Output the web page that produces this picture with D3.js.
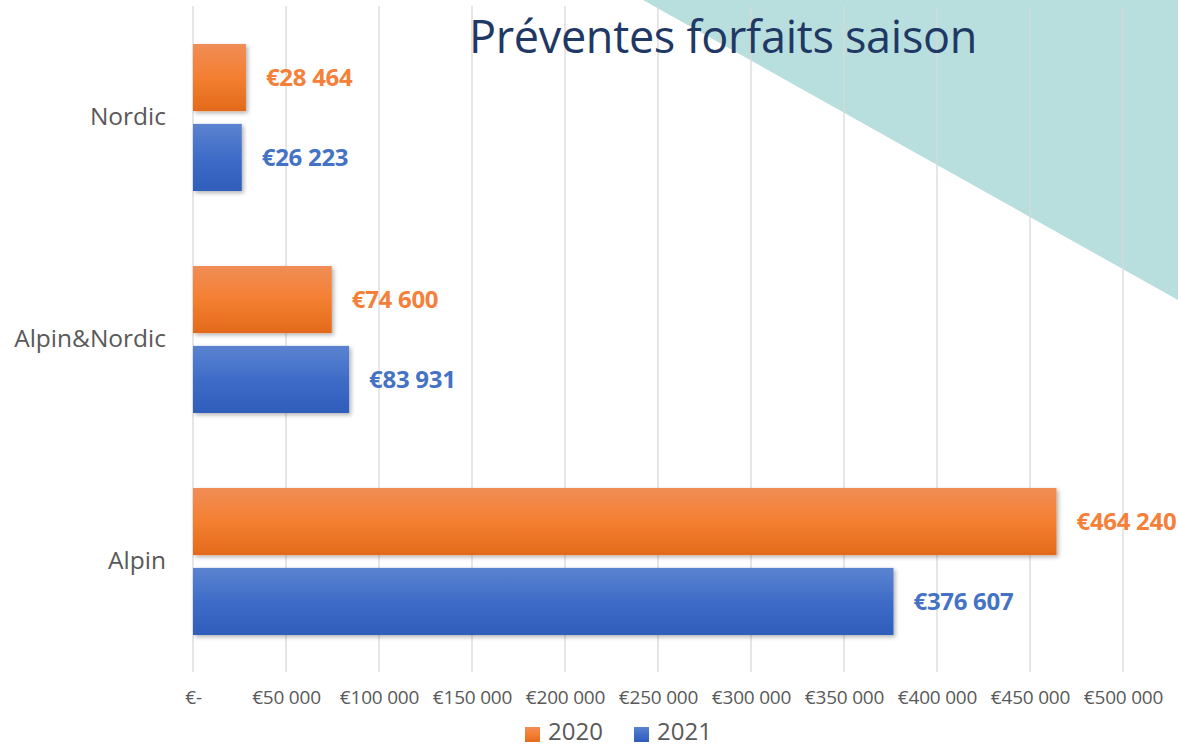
<!DOCTYPE html>
<html>
<head>
<meta charset="utf-8">
<script src="https://cdn.jsdelivr.net/npm/d3@7"></script>
<style>
  body { margin: 0; background: #fff; }
  svg { display: block; font-family: "Open Sans", sans-serif; }
</style>
</head>
<body>
<svg id="chart" width="1178" height="747"></svg>
<script>
// chart data
const categories = ["Nordic", "Alpin&Nordic", "Alpin"];
const seriesNames = ["2020", "2021"];
const values2020 = [28464, 74600, 464240];
const values2021 = [26223, 83931, 376607];
const tickValues = [0, 50000, 100000, 150000, 200000, 250000, 300000, 350000, 400000, 450000, 500000];
const titleText = "Préventes forfaits saison";

const svg = d3.select("#chart");
const W = 1178, H = 747;
const plot = {left: 193, right: 1123, top: 6, bottom: 672};

// teal corner triangle in the background
svg.append("path")
    .attr("d", `M643,0 L${W},0 L${W},300 Z`)
    .attr("fill", "#b9dede");

const defs = svg.append("defs");
const gradOrange = defs.append("linearGradient").attr("id", "gOrange")
    .attr("x1", 0).attr("y1", 0).attr("x2", 0).attr("y2", 1);
gradOrange.append("stop").attr("offset", "0%").attr("stop-color", "#f08d56");
gradOrange.append("stop").attr("offset", "50%").attr("stop-color", "#f47f31");
gradOrange.append("stop").attr("offset", "100%").attr("stop-color", "#e26a1b");
const gradBlue = defs.append("linearGradient").attr("id", "gBlue")
    .attr("x1", 0).attr("y1", 0).attr("x2", 0).attr("y2", 1);
gradBlue.append("stop").attr("offset", "0%").attr("stop-color", "#5b83d0");
gradBlue.append("stop").attr("offset", "50%").attr("stop-color", "#3f6cc8");
gradBlue.append("stop").attr("offset", "100%").attr("stop-color", "#2f5dba");
const shadow = defs.append("filter").attr("id", "shadow")
    .attr("x", "-5%").attr("y", "-10%").attr("width", "115%").attr("height", "130%");
shadow.append("feDropShadow").attr("dx", 2).attr("dy", 2).attr("stdDeviation", 2)
    .attr("flood-color", "#000").attr("flood-opacity", 0.3);

const x = d3.scaleLinear().domain([0, 500000]).range([plot.left, plot.right]);
const y = d3.scaleBand().domain(categories).range([plot.top, plot.bottom]);
const inner = d3.scaleBand().domain(seriesNames)
    .range([38, y.bandwidth() - 37]).paddingInner(0.16);

const colors = {"2020": "url(#gOrange)", "2021": "url(#gBlue)"};
const labelColors = {"2020": "#f4803a", "2021": "#4472c4"};

// gridlines
svg.append("g").selectAll("line")
    .data(tickValues)
    .join("line")
    .attr("x1", d => x(d)).attr("x2", d => x(d))
    .attr("y1", plot.top).attr("y2", plot.bottom)
    .attr("stroke", "#d9d9d9").attr("stroke-width", 1.3);

// x axis labels
const fmt = v => v === 0 ? "€-" : "€" + d3.format(",")(v).replace(/,/g, " ");
const xAxis = d3.axisBottom(x).tickValues(tickValues).tickFormat(fmt).tickSize(0).tickPadding(0);
const xg = svg.append("g").attr("transform", `translate(0,${plot.bottom + 18})`).call(xAxis);
xg.select(".domain").remove();
xg.selectAll("text").attr("font-size", 19).attr("fill", "#595959")
    .attr("font-family", "'Open Sans', sans-serif")
    .attr("letter-spacing", -0.2);

// category labels
svg.append("g").selectAll("text")
    .data(categories)
    .join("text")
    .attr("x", 166)
    .attr("y", d => y(d) + y.bandwidth() / 2 + 8)
    .attr("text-anchor", "end")
    .attr("font-size", 24.5)
    .attr("fill", "#595959")
    .text(d => d);

// bars
const rows = [];
categories.forEach((c, i) => {
    rows.push({cat: c, series: "2020", value: values2020[i]});
    rows.push({cat: c, series: "2021", value: values2021[i]});
});

svg.append("g").selectAll("rect")
    .data(rows)
    .join("rect")
    .attr("x", x(0))
    .attr("y", d => y(d.cat) + inner(d.series))
    .attr("width", d => x(d.value) - x(0))
    .attr("height", inner.bandwidth())
    .attr("fill", d => colors[d.series])
    .attr("filter", "url(#shadow)");

svg.append("g").selectAll("text")
    .data(rows)
    .join("text")
    .attr("x", d => x(d.value) + 20)
    .attr("y", d => y(d.cat) + inner(d.series) + inner.bandwidth() / 2 + 8.5)
    .attr("font-size", 24)
    .attr("font-weight", "bold")
    .attr("letter-spacing", -0.3)
    .attr("fill", d => labelColors[d.series])
    .text(d => fmt(d.value));

// title
svg.append("text")
    .attr("x", 723).attr("y", 53)
    .attr("text-anchor", "middle")
    .attr("font-size", 45)
    .attr("letter-spacing", -0.3)
    .attr("fill", "#1f3864")
    .text(titleText);

// legend
const legend = svg.append("g").selectAll("g")
    .data(seriesNames)
    .join("g")
    .attr("transform", (d, i) => `translate(${525 + i * 109},727)`);
legend.append("rect").attr("width", 15).attr("height", 15)
    .attr("fill", d => colors[d]);
legend.append("text").attr("x", 23).attr("y", 13)
    .attr("font-size", 24).attr("fill", "#595959")
    .text(d => d);
</script>
</body>
</html>
